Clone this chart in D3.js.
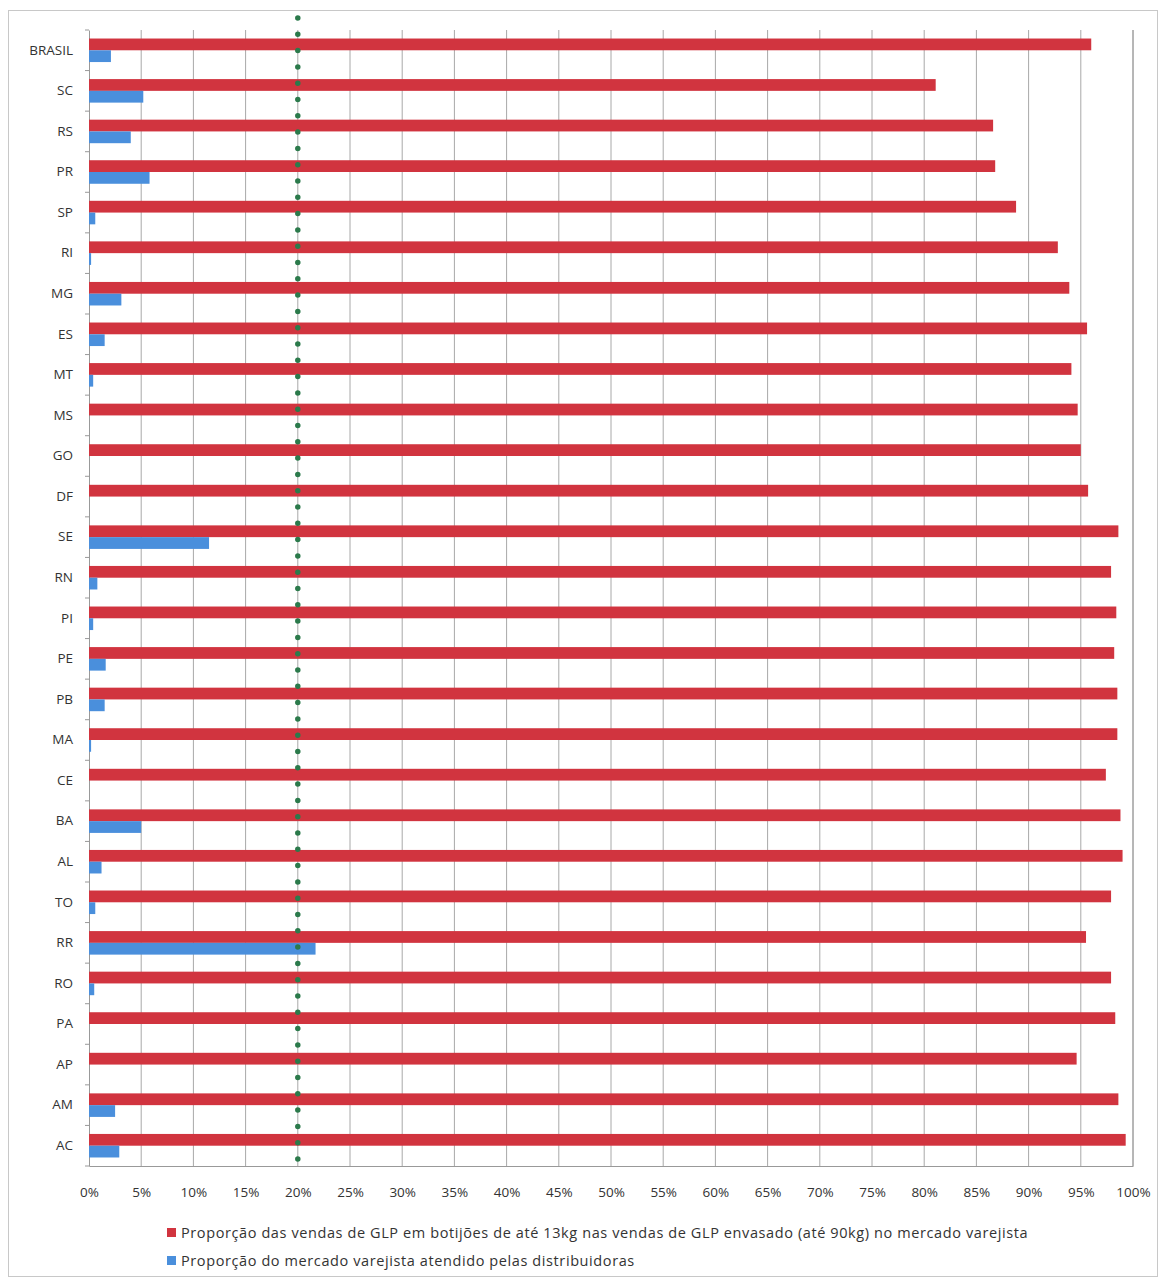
<!DOCTYPE html>
<html>
<head>
<meta charset="utf-8">
<script src="https://cdn.jsdelivr.net/npm/d3@7"></script>
<style>
  body { margin: 0; background: #fff; }
  text { font-family: "Open Sans", "DejaVu Sans", sans-serif; fill: #333; }
</style>
</head>
<body>
<div id="chart"></div>
<script>
// categories, top to bottom
var estados = ["BRASIL","SC","RS","PR","SP","RI","MG","ES","MT","MS","GO","DF","SE","RN",
               "PI","PE","PB","MA","CE","BA","AL","TO","RR","RO","PA","AP","AM","AC"];

// share of sales in cylinders up to 13kg (red)
var botijoes13 = [0.960, 0.811, 0.866, 0.868, 0.888, 0.928, 0.939, 0.956, 0.941, 0.947, 0.950, 0.957, 0.986, 0.979,
                  0.984, 0.982, 0.985, 0.985, 0.974, 0.988, 0.990, 0.979, 0.955, 0.979, 0.983, 0.946, 0.986, 0.993];

// share of retail market served by distributors (blue)
var distribuidoras = [0.021, 0.052, 0.040, 0.058, 0.006, 0.002, 0.031, 0.015, 0.004, 0, 0, 0, 0.115, 0.008,
                      0.004, 0.016, 0.015, 0.002, 0, 0.050, 0.012, 0.006, 0.217, 0.005, 0, 0, 0.025, 0.029];

var referencia = 0.20;
var xTicks = d3.range(0, 1.0001, 0.05);
var legendas = [
  "Proporção das vendas de GLP em botijões de até 13kg nas vendas de GLP envasado (até 90kg) no mercado varejista",
  "Proporção do mercado varejista atendido pelas distribuidoras"
];
var cores = ["#d1343f", "#4a8fdc"];

var width = 1164, height = 1282;
var margin = {top: 30, right: 31, bottom: 116, left: 89};

var svg = d3.select("#chart").append("svg")
    .attr("width", width)
    .attr("height", height);

// outer frame
svg.append("rect")
    .attr("x", 8.5).attr("y", 10.5)
    .attr("width", 1149).attr("height", 1266)
    .attr("fill", "none").attr("stroke", "#c8c8c8");

var x = d3.scaleLinear().domain([0, 1]).range([margin.left, width - margin.right]);
var y = d3.scaleBand().domain(estados)
    .range([margin.top, height - margin.bottom])
    .paddingInner(0.42).paddingOuter(0.21);
var sub = d3.scaleBand().domain(["a", "b"]).range([0, y.bandwidth()]);

// vertical gridlines
svg.append("g").selectAll("line")
    .data(xTicks.slice(1))
    .enter().append("line")
      .attr("x1", function(d) { return x(d); })
      .attr("x2", function(d) { return x(d); })
      .attr("y1", margin.top)
      .attr("y2", height - margin.bottom)
      .attr("stroke", function(d) { return d > 0.999 ? "#6e6e6e" : "#a8a8a8"; })
      .attr("stroke-width", 1);

// x axis
var xAxis = svg.append("g")
    .attr("transform", "translate(0," + (height - margin.bottom) + ")")
    .call(d3.axisBottom(x).tickValues(xTicks).tickFormat(d3.format(".0%")).tickSize(0).tickPadding(21));
xAxis.select(".domain").attr("stroke", "#999");
xAxis.selectAll("text").attr("font-size", 13.5).attr("fill", "#333")
    .attr("font-family", "'Open Sans', sans-serif");

// y axis
var yAxis = svg.append("g")
    .attr("transform", "translate(" + margin.left + ",0)")
    .call(d3.axisLeft(y).tickSize(0).tickPadding(16));
yAxis.select(".domain").attr("stroke", "#999");
yAxis.selectAll("text").attr("font-size", 13.5).attr("fill", "#333")
    .attr("font-family", "'Open Sans', sans-serif");

// small separators between categories
var step = y.step();
svg.append("g").selectAll("line")
    .data(d3.range(estados.length + 1))
    .enter().append("line")
      .attr("x1", margin.left - 4).attr("x2", margin.left)
      .attr("y1", function(i) { return margin.top + i * step; })
      .attr("y2", function(i) { return margin.top + i * step; })
      .attr("stroke", "#999");

// red bars
svg.append("g").selectAll("rect")
    .data(estados)
    .enter().append("rect")
      .attr("x", x(0))
      .attr("y", function(d) { return y(d) + sub("a"); })
      .attr("width", function(d, i) { return x(botijoes13[i]) - x(0); })
      .attr("height", sub.bandwidth())
      .attr("fill", cores[0]);

// blue bars
svg.append("g").selectAll("rect")
    .data(estados)
    .enter().append("rect")
      .attr("x", x(0))
      .attr("y", function(d) { return y(d) + sub("b"); })
      .attr("width", function(d, i) { return x(distribuidoras[i]) - x(0); })
      .attr("height", sub.bandwidth())
      .attr("fill", cores[1]);

// green dotted reference line at 20%
svg.append("line")
    .attr("x1", x(referencia)).attr("x2", x(referencia))
    .attr("y1", 18).attr("y2", 1160)
    .attr("stroke", "#2b7a4b")
    .attr("stroke-width", 5.5)
    .attr("stroke-linecap", "round")
    .attr("stroke-dasharray", "0 16.3");

// legend
var legend = svg.append("g").selectAll("g")
    .data(legendas)
    .enter().append("g")
      .attr("transform", function(d, i) { return "translate(167," + (1228 + i * 28) + ")"; });
legend.append("rect")
    .attr("width", 9).attr("height", 9)
    .attr("fill", function(d, i) { return cores[i]; });
legend.append("text")
    .attr("x", 14).attr("y", 10)
    .attr("font-size", 14.5)
    .attr("letter-spacing", 0.6)
    .text(function(d) { return d; });
</script>
</body>
</html>
